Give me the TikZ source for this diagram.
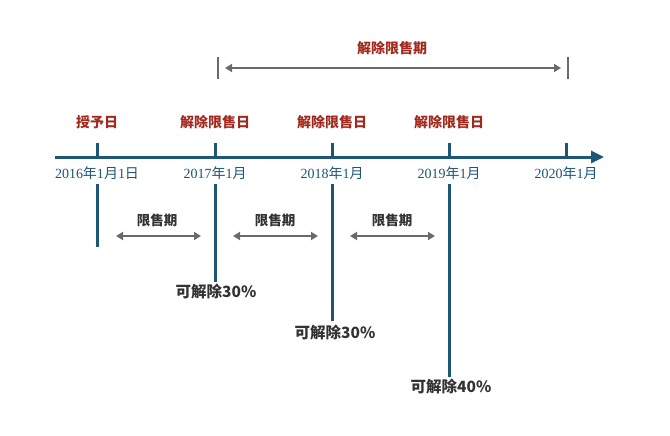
\documentclass[tikz,border=0pt]{standalone}
\usepackage{fontspec}
\setmainfont{Liberation Serif}
\newfontfamily\cjk{Noto Sans CJK SC}
\usetikzlibrary{arrows.meta}
\definecolor{axisblue}{HTML}{1E5676}
\definecolor{darkred}{HTML}{A3291F}
\definecolor{arrgray}{HTML}{6A6A6A}
\definecolor{txtgray}{HTML}{333333}
\newcommand{\cj}[1]{{\cjk #1}}
\begin{document}
\begin{tikzpicture}[x=1pt,y=-1pt,
  axisline/.style={draw=axisblue,line width=3pt},
  vline/.style={draw=axisblue,line width=3pt},
  garrow/.style={draw=arrgray,line width=2.2pt,{Triangle[length=7pt,width=8pt]}-{Triangle[length=7pt,width=8pt]}},
  redlab/.style={text=darkred,font=\cjk\bfseries\fontsize{14}{16}\selectfont,inner sep=0pt},
  datelab/.style={text=axisblue,font=\fontsize{14}{16}\selectfont,inner sep=0pt},
  periodlab/.style={text=txtgray,font=\cjk\bfseries\fontsize{13.5}{16}\selectfont,inner sep=0pt},
  reslab/.style={text=txtgray,font=\cjk\bfseries\fontsize{15.5}{18}\selectfont,inner sep=0pt},
  bar/.style={draw=arrgray,line width=1.3pt}]
\useasboundingbox[fill=white] (0,0) rectangle (670,436);
% axis
\coordinate (axs) at (55,157);
\coordinate (axe) at (604,157);
\draw[axisline,-{Triangle[length=13pt,width=12pt]}] (axs) -- (axe);
% ticks
\foreach \n/\x in {t0/97,t1/215,t2/332,t3/449,t4/566}{
  \coordinate (\n) at (\x,157);
  \coordinate (\n u) at (\x,143);
  \draw[vline] (\n u) -- (\n);
}
% date labels
\node[datelab] (d0) at (97,173) {2016\cj{年}1\cj{月}1\cj{日}};
\node[datelab] (d1) at (215,173) {2017\cj{年}1\cj{月}};
\node[datelab] (d2) at (332,173) {2018\cj{年}1\cj{月}};
\node[datelab] (d3) at (449,173) {2019\cj{年}1\cj{月}};
\node[datelab] (d4) at (566,173) {2020\cj{年}1\cj{月}};
% red labels
\node[redlab] (r0) at (97,122) {授予日};
\node[redlab] (r1) at (215,122) {解除限售日};
\node[redlab] (r2) at (332,122) {解除限售日};
\node[redlab] (r3) at (449,122) {解除限售日};
% vertical lines below
\coordinate (v0a) at (97,184); \coordinate (v0b) at (97,247);
\coordinate (v1a) at (215,184); \coordinate (v1b) at (215,282);
\coordinate (v2a) at (332,184); \coordinate (v2b) at (332,321);
\coordinate (v3a) at (449,184); \coordinate (v3b) at (449,377);
\draw[vline] (v0a) -- (v0b);
\draw[vline] (v1a) -- (v1b);
\draw[vline] (v2a) -- (v2b);
\draw[vline] (v3a) -- (v3b);
% result labels
\node[reslab] (s1) at (216,292) {可解除30\%};
\node[reslab] (s2) at (335,333) {可解除30\%};
\node[reslab] (s3) at (451,387) {可解除40\%};
% period labels and arrows
\node[periodlab] (p1) at (157,220) {限售期};
\node[periodlab] (p2) at (275,220) {限售期};
\node[periodlab] (p3) at (392,220) {限售期};
\coordinate (a1s) at (116,236); \coordinate (a1e) at (201,236);
\coordinate (a2s) at (233,236); \coordinate (a2e) at (318,236);
\coordinate (a3s) at (350,236); \coordinate (a3e) at (435,236);
\draw[garrow] (a1s) -- (a1e);
\draw[garrow] (a2s) -- (a2e);
\draw[garrow] (a3s) -- (a3e);
% top period
\node[redlab] (top) at (392,48) {解除限售期};
\coordinate (b1a) at (218,57); \coordinate (b1b) at (218,79);
\coordinate (b2a) at (568,57); \coordinate (b2b) at (568,79);
\draw[bar] (b1a) -- (b1b);
\draw[bar] (b2a) -- (b2b);
\coordinate (tas) at (225,68); \coordinate (tae) at (561,68);
\draw[garrow] (tas) -- (tae);
\end{tikzpicture}
\end{document}
